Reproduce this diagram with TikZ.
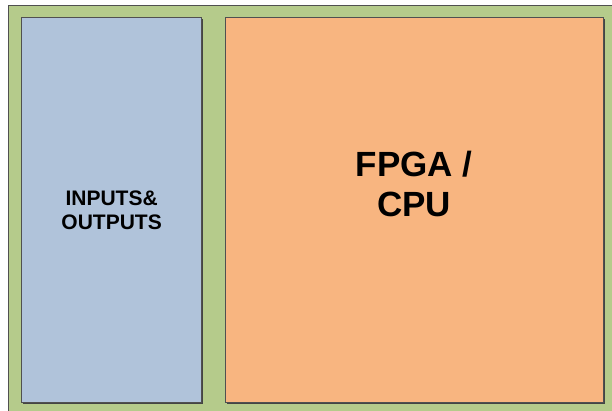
\documentclass[tikz,border=0pt]{standalone}
\usepackage{fontspec}
\setmainfont{Liberation Sans}
\definecolor{boardgreen}{HTML}{B5CB8B}
\definecolor{ioblue}{HTML}{B0C3DA}
\definecolor{cpuorange}{HTML}{F8B580}
\definecolor{edgegray}{HTML}{505050}
\tikzset{
  panel/.style={draw=edgegray, line width=1.3pt},
  shade/.style={fill=edgegray!85!black, draw=none},
  lbl/.style={align=center, font=\bfseries, text=black, inner sep=0pt}
}
\begin{document}
\begin{tikzpicture}[x=1pt,y=-1pt]
\useasboundingbox (0,0) rectangle (612,410);
\clip (0,0) rectangle (612,410);
\fill[white] (0,0) rectangle (612,410);
% board
\fill[shade] (9.5,6.5) rectangle (640,440);
\node[panel, fill=boardgreen, anchor=north west, minimum width=632pt, minimum height=435pt, inner sep=0pt] (board) at (8,5) {};
% IO panel
\fill[shade] (22.5,18.5) rectangle (202.5,403.5);
\node[panel, fill=ioblue, anchor=north west, minimum width=180pt, minimum height=385pt, inner sep=0pt] (io) at (21,17) {};
\node[lbl, font=\bfseries\fontsize{21}{24}\selectfont] (iotext) at (io.center) {INPUTS\&\\OUTPUTS};
% CPU panel
\fill[shade] (226.5,18.5) rectangle (604.5,403.5);
\node[panel, fill=cpuorange, anchor=north west, minimum width=378pt, minimum height=385pt, inner sep=0pt] (cpu) at (225,17) {};
\node[lbl, font=\bfseries\fontsize{35}{40}\selectfont] (cputext) at (414,184) {FPGA /\\CPU};
\end{tikzpicture}
\end{document}
